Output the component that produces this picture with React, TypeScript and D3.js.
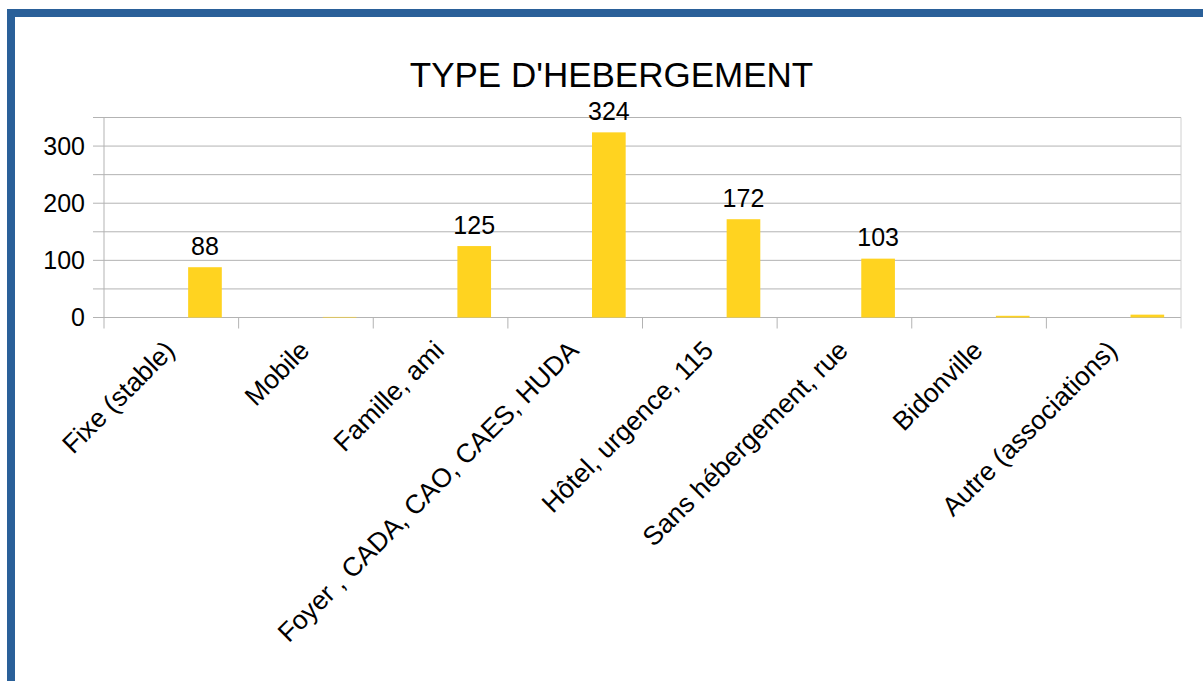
import React from "react";
import * as d3 from "d3";

const categories = [
  "Fixe (stable)",
  "Mobile",
  "Famille, ami",
  "Foyer , CADA, CAO, CAES, HUDA",
  "Hôtel, urgence, 115",
  "Sans hébergement, rue",
  "Bidonville",
  "Autre (associations)",
];
const values = [88, 1, 125, 324, 172, 103, 3, 5];
const showLabel = [true, false, true, true, true, true, false, false];
const yTicks = [0, 100, 200, 300];
const gridValues = [50, 100, 150, 200, 250, 300, 350];
const title = "TYPE D'HEBERGEMENT";

const W = 1203;
const H = 681;
const FONT = "'Liberation Sans', Arial, sans-serif";

export default function App() {
  const x0 = 104;
  const x1 = 1181;
  const x = d3.scaleBand<string>().domain(categories).range([x0, x1]).padding(0);
  const y = d3.scaleLinear().domain([0, 350]).range([317.5, 117.5]);
  const bw = x.bandwidth();
  const blue = "#2a6099";
  const grid = "#b3b3b3";

  return (
    <svg
      width={W}
      height={H}
      style={{ position: "absolute", left: 0, top: 0, background: "#fff" }}
      fontFamily={FONT}
    >
      <rect x={0} y={0} width={W} height={H} fill="#fff" />
      {/* border */}
      <rect x={7} y={9} width={W - 7} height={8} fill={blue} />
      <rect x={7} y={9} width={8} height={H - 9} fill={blue} />

      {/* title */}
      <text x={611.5} y={87} textAnchor="middle" fontSize={35} fill="#000">
        {title}
      </text>

      {/* gridlines */}
      {gridValues.map((v) => (
        <line key={v} x1={x0 - 11} x2={x1} y1={y(v)} y2={y(v)} stroke={grid} strokeWidth={1} />
      ))}
      {/* baseline */}
      <line x1={x0 - 11} x2={x1} y1={y(0)} y2={y(0)} stroke={grid} strokeWidth={1} />
      {/* left axis */}
      <line x1={x0} x2={x0} y1={y(350)} y2={y(0) + 11} stroke={grid} strokeWidth={1} />
      {/* category ticks */}
      {categories.map((c) => (
        <line
          key={c}
          x1={(x(c) as number) + bw}
          x2={(x(c) as number) + bw}
          y1={c === categories[categories.length - 1] ? y(350) : y(0)}
          y2={y(0) + 11}
          stroke={c === categories[categories.length - 1] ? "#d0d0d0" : grid}
          strokeWidth={1}
        />
      ))}

      {/* y labels */}
      {yTicks.map((v) => (
        <text key={v} x={85} y={y(v)} dy="0.35em" textAnchor="end" fontSize={25} fill="#000">
          {v}
        </text>
      ))}

      {/* bars */}
      {categories.map((c, i) => (
        <rect
          key={c}
          x={(x(c) as number) + bw * 0.625}
          y={y(values[i])}
          width={bw / 4}
          height={y(0) - y(values[i])}
          fill="#ffd320"
        />
      ))}

      {/* data labels */}
      {categories.map((c, i) =>
        showLabel[i] ? (
          <text
            key={c}
            x={(x(c) as number) + bw * 0.75}
            y={y(values[i]) - 12.5}
            textAnchor="middle"
            fontSize={25}
            fill="#000"
          >
            {values[i]}
          </text>
        ) : null
      )}

      {/* category labels */}
      {categories.map((c) => {
        const cx = (x(c) as number) + bw / 2 + 5;
        const cy = 352;
        return (
          <text
            key={c}
            x={cx}
            y={cy}
            textAnchor="end"
            fontSize={26.5}
            fill="#000"
            transform={`rotate(-45 ${cx} ${cy})`}
          >
            {c}
          </text>
        );
      })}
    </svg>
  );
}
